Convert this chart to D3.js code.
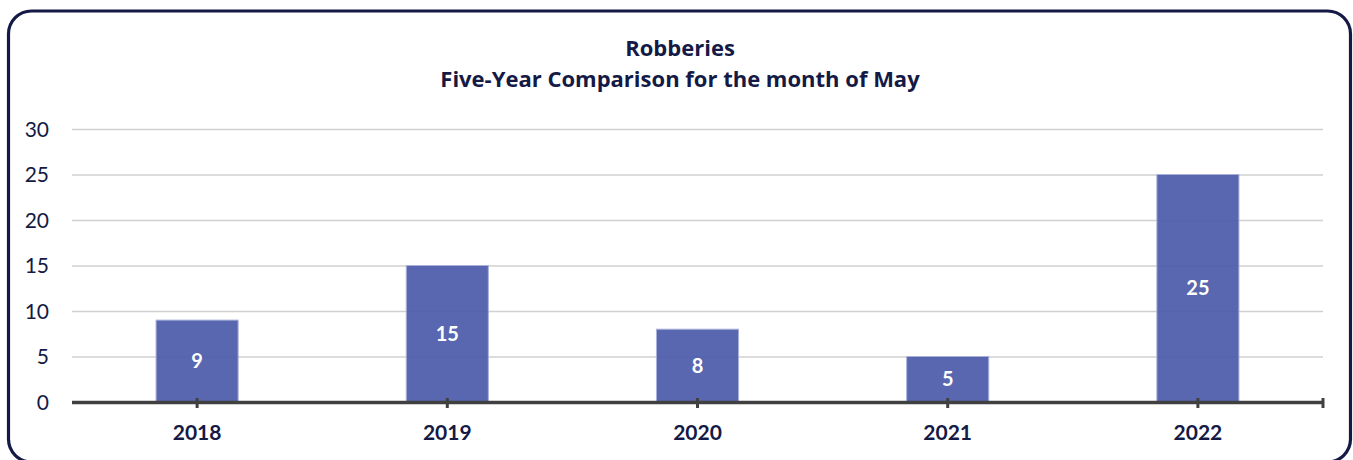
<!DOCTYPE html>
<html><head><meta charset="utf-8">
<script src="https://cdn.jsdelivr.net/npm/d3@7"></script>
<style>html,body{margin:0;padding:0;background:#fff;}svg{display:block;font-family:Lato,"Open Sans",sans-serif;}</style>
</head><body>
<svg id="c" width="1353" height="460"></svg>
<script>
const categories = ["2018","2019","2020","2021","2022"];
const values = [9,15,8,5,25];
const yTicks = [0,5,10,15,20,25,30];
const titleLines = ["Robberies","Five-Year Comparison for the month of May"];

const svg = d3.select("#c");
const navy = "#141a45";

svg.append("rect").attr("x",8.5).attr("y",11).attr("width",1342).attr("height",451)
  .attr("rx",23).attr("ry",23).attr("fill","#fff").attr("stroke",navy).attr("stroke-width",3.2);

const m = {left:72, right:1323, top:129, bottom:402};
const x = d3.scaleBand().domain(categories).range([m.left,m.right]).paddingInner(0.672).paddingOuter(0.336);
const y = d3.scaleLinear().domain([0,30]).range([m.bottom,m.top]);

const g = svg.append("g");
g.selectAll("line.grid").data(yTicks.filter(d=>d>0)).join("line")
  .attr("x1",m.left).attr("x2",m.right).attr("y1",d=>y(d)+0.5).attr("y2",d=>y(d)+0.5)
  .attr("stroke","#d0d0d0").attr("stroke-width",1.3);

g.selectAll("text.yl").data(yTicks).join("text")
  .attr("x",49).attr("y",d=>y(d)).attr("dy","0.36em").attr("text-anchor","end")
  .attr("font-size",21).attr("fill",navy).text(d=>d);

g.selectAll("rect.bar").data(values).join("rect")
  .attr("x",(d,i)=>x(categories[i])).attr("width",x.bandwidth())
  .attr("y",d=>y(d)).attr("height",d=>y(0)-y(d))
  .attr("fill","#4a5aa8").attr("fill-opacity",0.92).attr("stroke","#a9b1d9").attr("stroke-width",1);

g.selectAll("text.vl").data(values).join("text")
  .attr("x",(d,i)=>x(categories[i])+x.bandwidth()/2).attr("y",d=>(y(d)+y(0))/2).attr("dy","0.36em")
  .attr("text-anchor","middle").attr("font-size",20).attr("font-weight","bold").attr("fill","#fff").text(d=>d);

svg.append("line").attr("x1",m.left).attr("x2",m.right).attr("y1",m.bottom+0.5).attr("y2",m.bottom+0.5)
  .attr("stroke","#404040").attr("stroke-width",3.5);
svg.selectAll("line.xt").data(categories).join("line")
  .attr("x1",d=>x(d)+x.bandwidth()/2).attr("x2",d=>x(d)+x.bandwidth()/2)
  .attr("y1",m.bottom-4).attr("y2",m.bottom+6).attr("stroke","#404040").attr("stroke-width",3);
svg.append("line").attr("x1",m.right).attr("x2",m.right).attr("y1",m.bottom-4).attr("y2",m.bottom+6)
  .attr("stroke","#404040").attr("stroke-width",3);

svg.selectAll("text.xl").data(categories).join("text")
  .attr("x",d=>x(d)+x.bandwidth()/2).attr("y",440).attr("text-anchor","middle")
  .attr("font-size",21).attr("font-weight","bold").attr("fill",navy).text(d=>d);

svg.selectAll("text.t").data(titleLines).join("text")
  .attr("x",680).attr("y",(d,i)=>56+i*31).attr("text-anchor","middle")
  .style("font-family","'Open Sans',sans-serif")
  .attr("font-size",22).attr("font-weight","bold").attr("fill",navy).text(d=>d);
</script>
</body></html>
